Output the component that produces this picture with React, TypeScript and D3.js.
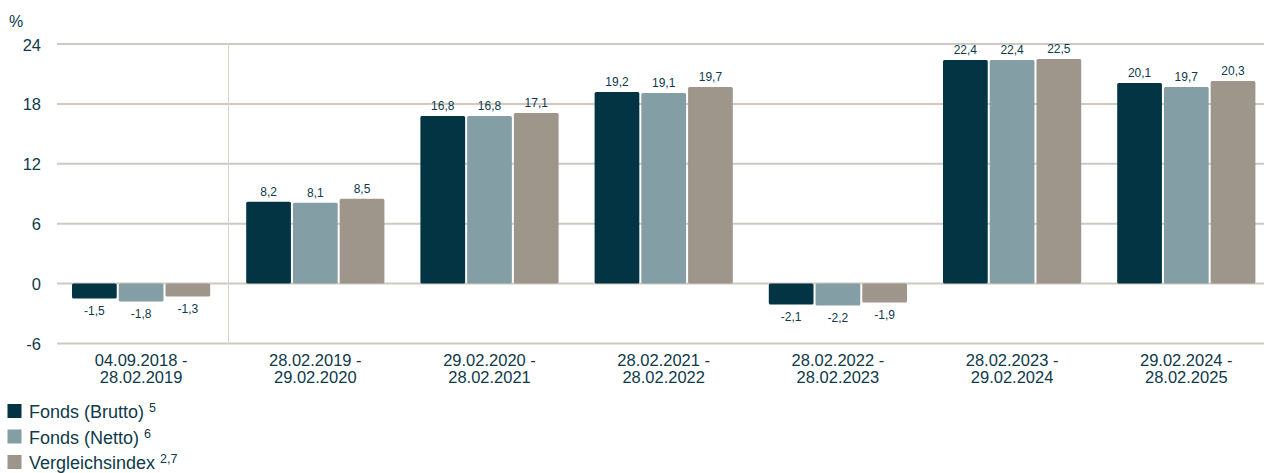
import React from "react";
import * as d3 from "d3";

const categories = [
  ["04.09.2018 -", "28.02.2019"],
  ["28.02.2019 -", "29.02.2020"],
  ["29.02.2020 -", "28.02.2021"],
  ["28.02.2021 -", "28.02.2022"],
  ["28.02.2022 -", "28.02.2023"],
  ["28.02.2023 -", "29.02.2024"],
  ["29.02.2024 -", "28.02.2025"],
];
const brutto = [-1.5, 8.2, 16.8, 19.2, -2.1, 22.4, 20.1];
const netto = [-1.8, 8.1, 16.8, 19.1, -2.2, 22.4, 19.7];
const vergleich = [-1.3, 8.5, 17.1, 19.7, -1.9, 22.5, 20.3];
const yTicks = [-6, 0, 6, 12, 18, 24];
const seriesNames = ["Fonds (Brutto)", "Fonds (Netto)", "Vergleichsindex"];
const seriesSup = ["5", "6", "2,7"];
const colors = ["#023444", "#839ea4", "#9e958b"];

export default function App() {
  const W = 1264, H = 473;
  const left = 57, right = 1264;
  const x = d3.scaleBand<number>().domain(categories.map((_, i) => i)).range([54, 54 + 7 * 174.2]).paddingInner(0).paddingOuter(0);
  const y = d3.scaleLinear().domain([-6, 24]).range([343.5, 44]);
  const series = [brutto, netto, vergleich];
  const groupPad = 18;
  const xs = d3.scaleBand<number>().domain([0, 1, 2]).range([groupPad, x.bandwidth() - groupPad]).paddingInner(0.043);
  const textColor = "#0e3a4a";
  const fmt = (v: number) => v.toFixed(1).replace(".", ",");
  return (
    <svg width={W} height={H} style={{ position: "absolute", left: 0, top: 0 }} fontFamily="Liberation Sans, Arial, sans-serif">
      <text x={9} y={26.5} fontSize={16} fill={textColor}>%</text>
      {yTicks.map((t) => (
        <g key={t}>
          <line x1={left} x2={right} y1={y(t)} y2={y(t)} stroke="#cfc9c2" strokeWidth={2} />
          <text x={41} y={y(t) + 6.5} textAnchor="end" fontSize={16.5} fill={textColor}>{t}</text>
        </g>
      ))}
      <line x1={228.5} x2={228.5} y1={y(24)} y2={y(-6)} stroke="#d9d4ce" strokeWidth={1} />
      {categories.map((c, i) => {
        const cx = (x(i) as number) + x.bandwidth() / 2;
        return (
          <g key={i}>
            {series.map((s, j) => {
              const v = s[i];
              const bx = (x(i) as number) + (xs(j) as number);
              const bw = xs.bandwidth();
              const y0 = y(0), y1 = y(v);
              const top = Math.min(y0, y1), h = Math.abs(y1 - y0);
              return (
                <g key={j}>
                  <rect x={bx} y={top} width={bw} height={h} fill={colors[j]} rx={1.5} />
                  <text x={bx + bw / 2} y={v >= 0 ? y1 - 5.5 : y1 + 16} textAnchor="middle" fontSize={12} fill={textColor}>{fmt(v)}</text>
                </g>
              );
            })}
            <text x={cx} y={366} textAnchor="middle" fontSize={16.5} fill={textColor}>
              <tspan x={cx}>{c[0]}</tspan>
              <tspan x={cx} dy={17}>{c[1]}</tspan>
            </text>
          </g>
        );
      })}
      {seriesNames.map((n, j) => (
        <g key={n}>
          <rect x={7.5} y={404 + j * 25.5} width={14} height={14} fill={colors[j]} />
          <text x={29} y={418 + j * 25.5} fontSize={18} fill={textColor}>
            {n}
            <tspan fontSize={12.5} dy={-6} dx={5}>{seriesSup[j]}</tspan>
          </text>
        </g>
      ))}
    </svg>
  );
}
